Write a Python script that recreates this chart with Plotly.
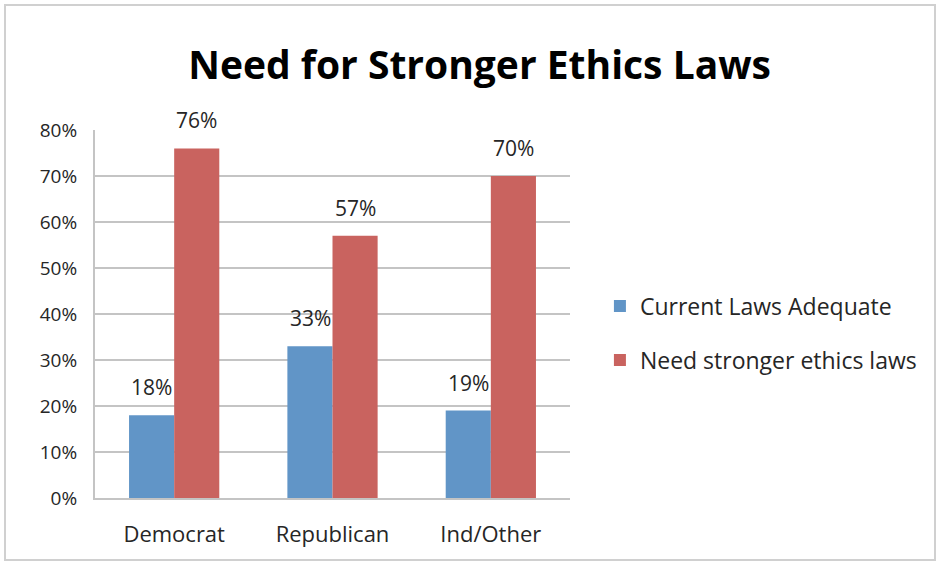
import plotly.graph_objects as go

categories = ["Democrat", "Republican", "Ind/Other"]
current_adequate = [0.18, 0.33, 0.19]
need_stronger = [0.76, 0.57, 0.70]
series_names = ["Current Laws Adequate", "Need stronger ethics laws"]
y_ticks = [0, 0.1, 0.2, 0.3, 0.4, 0.5, 0.6, 0.7, 0.8]

FONT = "Open Sans"
TXT = "#262626"
BAR_HALF_PX = 22.5

fig = go.Figure()
fig.add_trace(go.Bar(
    x=categories, y=current_adequate, name=series_names[0],
    marker=dict(color="#6195c7", line=dict(width=0)),
    legendgroup="a",
))
fig.add_trace(go.Bar(
    x=categories, y=need_stronger, name=series_names[1],
    marker=dict(color="#c9635f", line=dict(width=0)),
    legendgroup="b",
))

for vals, sh in ((current_adequate, -BAR_HALF_PX), (need_stronger, BAR_HALF_PX)):
    for c, v in zip(categories, vals):
        fig.add_annotation(x=c, y=v, xref="x", yref="y", text=f"{v:.0%}",
                           showarrow=False, xshift=sh, yshift=28,
                           yanchor="middle", xanchor="center",
                           font=dict(family=FONT, size=21, color=TXT))

fig.update_layout(
    width=946, height=566,
    margin=dict(l=95, r=376, t=130, b=68),
    paper_bgcolor="white", plot_bgcolor="white",
    barmode="group", bargap=0.43, bargroupgap=0,
    title=dict(text="<b>Need for Stronger Ethics Laws</b>", x=0.507, xanchor="center",
               y=0.884, yanchor="middle",
               font=dict(family=FONT, size=39, color="black")),
    font=dict(family=FONT, color=TXT),
    legend=dict(x=1.063, xanchor="left", y=0.448, yanchor="middle",
                font=dict(family=FONT, size=23, color=TXT),
                tracegroupgap=21, itemwidth=30, bgcolor="rgba(0,0,0,0)"),
    showlegend=True,
)
fig.update_yaxes(range=[0, 0.8], tickvals=y_ticks, tickformat=".0%",
                 showgrid=True, gridcolor="#c4c4c4", gridwidth=2,
                 showline=True, linecolor="#c4c4c4", linewidth=2,
                 ticks="", ticklabelstandoff=12,
                 tickfont=dict(family=FONT, size=19, color=TXT), zeroline=False)
fig.update_xaxes(showline=True, linecolor="#c4c4c4", linewidth=2, ticks="",
                 ticklabelstandoff=16,
                 tickfont=dict(family=FONT, size=22, color=TXT))

fig.add_shape(type="rect", xref="paper", yref="paper",
              x0=-90/475, x1=(935-95)/475, y0=-62/368, y1=(498-5)/368,
              line=dict(color="#d0d0d0", width=2), fillcolor="rgba(0,0,0,0)", layer="below")

fig.write_html("out.html")
